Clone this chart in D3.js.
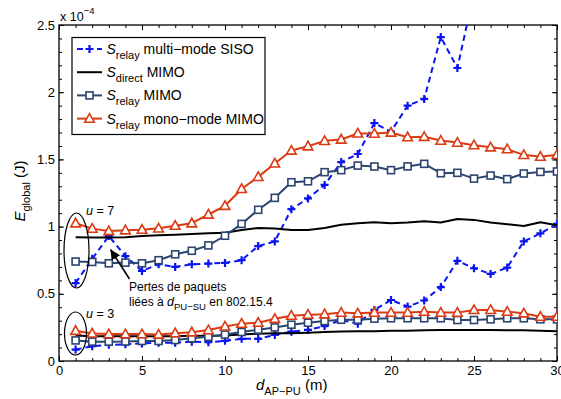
<!DOCTYPE html>
<html><head><meta charset="utf-8">
<script src="https://cdn.jsdelivr.net/npm/d3@7/dist/d3.min.js"></script>
<style>body{margin:0;background:#fff}svg{display:block;font-family:"Liberation Sans",Arial,sans-serif}</style>
</head><body><svg id="c" width="561" height="399"></svg>
<script>
const dist = d3.range(1, 31);
const xTicks = [0, 5, 10, 15, 20, 25, 30];
const yTicks = [0, 0.5, 1, 1.5, 2, 2.5];
const yTickLabels = ["0", "0.5", "1", "1.5", "2", "2.5"];
// u = 7
const siso7 = [0.58, 0.76, 0.93, 0.78, 0.67, 0.72, 0.70, 0.72, 0.725, 0.73, 0.75, 0.855, 0.89, 1.13, 1.21, 1.31, 1.48, 1.54, 1.77, 1.707, 1.90, 1.95, 2.41, 2.18, 2.74];
const direct7 = [0.92, 0.918, 0.918, 0.92, 0.93, 0.935, 0.94, 0.945, 0.95, 0.955, 0.975, 0.99, 0.985, 0.975, 0.975, 0.99, 1.013, 1.025, 1.033, 1.025, 1.03, 1.04, 1.03, 1.057, 1.05, 1.03, 1.018, 1.005, 1.033, 1.01];
const relay7 = [0.74, 0.737, 0.727, 0.732, 0.727, 0.75, 0.794, 0.82, 0.86, 0.932, 1.02, 1.125, 1.214, 1.33, 1.337, 1.405, 1.42, 1.454, 1.447, 1.42, 1.448, 1.467, 1.397, 1.40, 1.357, 1.38, 1.353, 1.395, 1.407, 1.41];
const mono7 = [1.025, 0.985, 0.967, 0.973, 0.977, 0.987, 1.007, 1.025, 1.09, 1.155, 1.28, 1.37, 1.47, 1.566, 1.598, 1.638, 1.648, 1.693, 1.692, 1.70, 1.665, 1.668, 1.64, 1.625, 1.606, 1.59, 1.576, 1.534, 1.52, 1.534];
// u = 3
const siso3 = [0.085, 0.11, 0.12, 0.124, 0.13, 0.136, 0.136, 0.144, 0.14, 0.15, 0.165, 0.165, 0.194, 0.218, 0.232, 0.26, 0.305, 0.278, 0.38, 0.454, 0.405, 0.45, 0.55, 0.745, 0.69, 0.648, 0.695, 0.89, 0.95, 1.02];
const direct3 = [0.19, 0.185, 0.185, 0.185, 0.185, 0.185, 0.185, 0.187, 0.188, 0.19, 0.197, 0.203, 0.206, 0.207, 0.21, 0.215, 0.22, 0.222, 0.222, 0.225, 0.225, 0.228, 0.23, 0.23, 0.23, 0.23, 0.228, 0.228, 0.226, 0.222];
const relay3 = [0.153, 0.144, 0.144, 0.145, 0.149, 0.149, 0.156, 0.169, 0.18, 0.197, 0.216, 0.233, 0.25, 0.27, 0.285, 0.297, 0.307, 0.307, 0.315, 0.318, 0.318, 0.318, 0.318, 0.305, 0.305, 0.31, 0.318, 0.318, 0.31, 0.31];
const mono3 = [0.225, 0.205, 0.2, 0.2, 0.2, 0.197, 0.207, 0.214, 0.23, 0.257, 0.278, 0.285, 0.314, 0.337, 0.345, 0.348, 0.36, 0.355, 0.36, 0.36, 0.36, 0.367, 0.36, 0.36, 0.38, 0.38, 0.367, 0.355, 0.33, 0.33];

const seriesNames = ["multi\u2212mode SISO", "MIMO", "MIMO", "mono\u2212mode MIMO"];
const seriesSubs = ["relay", "direct", "relay", "relay"];

const C = {siso: "#0a14f0", direct: "#000000", relay: "#2c4470", mono: "#dc3a12"};

const svg = d3.select("#c");
const L = 59, R = 557, T = 25, B = 361;
const x = d3.scaleLinear().domain([0, 30]).range([L, R]);
const y = d3.scaleLinear().domain([0, 2.5]).range([B, T]);

svg.append("defs").append("clipPath").attr("id", "clip")
  .append("rect").attr("x", L).attr("y", T).attr("width", R - L).attr("height", B - T);

// axes box and ticks
const g = svg.append("g");
function ax(axis, tx, ty, size) {
  const a = g.append("g").attr("transform", `translate(${tx},${ty})`).call(axis.tickSize(size).tickSizeOuter(0));
  a.select(".domain").remove();
  a.selectAll("line").attr("stroke", "#000").attr("stroke-width", 1);
  return a;
}
const minorX = d3.range(0, 31);
const minorY = d3.range(0, 26).map(d => d / 10);
ax(d3.axisBottom(x).tickValues(minorX).tickFormat(""), 0, B, -3);
ax(d3.axisTop(x).tickValues(minorX).tickFormat(""), 0, T, -3);
ax(d3.axisLeft(y).tickValues(minorY).tickFormat(""), L, 0, -3);
ax(d3.axisRight(y).tickValues(minorY).tickFormat(""), R, 0, -3);
const bx = ax(d3.axisBottom(x).tickValues(xTicks).tickFormat(d3.format("d")), 0, B, -5);
bx.selectAll("text").attr("y", 5).attr("dy", "0.71em").attr("font-size", 13).attr("fill", "#000");
ax(d3.axisTop(x).tickValues(xTicks).tickFormat(""), 0, T, -5);
const ly = ax(d3.axisLeft(y).tickValues(yTicks).tickFormat((d, i) => yTickLabels[i]), L, 0, -5);
ly.selectAll("text").attr("x", -4).attr("font-size", 13).attr("fill", "#000");
ax(d3.axisRight(y).tickValues(yTicks).tickFormat(""), R, 0, -5);
g.append("rect").attr("x", L).attr("y", T).attr("width", R - L).attr("height", B - T)
  .attr("fill", "none").attr("stroke", "#000").attr("stroke-width", 1.3);

// exponent
const ex = svg.append("text").attr("x", 60).attr("y", 21).attr("font-size", 12.5);
ex.append("tspan").text("x 10");
ex.append("tspan").attr("dy", -7).attr("font-size", 9.5).text("\u22124");

// axis labels
const xl = svg.append("text").attr("x", 256).attr("y", 390).attr("font-size", 15);
xl.append("tspan").attr("font-style", "italic").text("d");
xl.append("tspan").attr("dy", 5).attr("font-size", 11).text("AP\u2212PU");
xl.append("tspan").attr("dy", -5).text(" (m)");
const yl = svg.append("text").attr("transform", "translate(25,191) rotate(-90)")
  .attr("text-anchor", "middle").attr("font-size", 15);
yl.append("tspan").attr("font-style", "italic").text("E");
yl.append("tspan").attr("dy", 5).attr("font-size", 11).text("global");
yl.append("tspan").attr("dy", -5).text(" (J)");

// series
const plot = svg.append("g").attr("clip-path", "url(#clip)");
const line = d3.line().x(d => x(d[0])).y(d => y(d[1]));
function pts(arr) { return arr.map((v, i) => [dist[i], v]); }

function marker(sel, kind, color) {
  if (kind === "plus") {
    sel.append("path").attr("d", "M-4,0H4M0,-4V4").attr("stroke", color).attr("stroke-width", 2.2).attr("fill", "none");
  } else if (kind === "square") {
    sel.append("rect").attr("x", -3.5).attr("y", -3.5).attr("width", 7).attr("height", 7)
      .attr("fill", "#fff").attr("stroke", color).attr("stroke-width", 1.6);
  } else if (kind === "tri") {
    sel.append("path").attr("d", "M0,-5L4.8,3.6L-4.8,3.6Z")
      .attr("fill", "#fff").attr("stroke", color).attr("stroke-width", 1.6);
  }
}

function drawSeries(arr, color, kind, dash) {
  const p = pts(arr);
  plot.append("path").attr("d", line(p)).attr("fill", "none").attr("stroke", color)
    .attr("stroke-width", 2).attr("stroke-dasharray", dash || null).attr("stroke-linejoin", "round");
  if (kind) {
    plot.selectAll(null).data(p).enter().append("g")
      .attr("transform", d => `translate(${x(d[0])},${y(d[1])})`)
      .each(function () { marker(d3.select(this), kind, color); });
  }
}

drawSeries(siso7, C.siso, "plus", "6,4");
drawSeries(siso3, C.siso, "plus", "6,4");
drawSeries(direct7, C.direct, null);
drawSeries(direct3, C.direct, null);
drawSeries(relay7, C.relay, "square");
drawSeries(relay3, C.relay, "square");
drawSeries(mono7, C.mono, "tri");
drawSeries(mono3, C.mono, "tri");

// annotations
svg.append("ellipse").attr("cx", 76.5).attr("cy", 250.5).attr("rx", 12.5).attr("ry", 37.5)
  .attr("fill", "none").attr("stroke", "#000").attr("stroke-width", 1.2);
svg.append("ellipse").attr("cx", 75.5).attr("cy", 333.5).attr("rx", 11).attr("ry", 21.5)
  .attr("fill", "none").attr("stroke", "#000").attr("stroke-width", 1.2);
function uLabel(px, py, val) {
  const t = svg.append("text").attr("x", px).attr("y", py).attr("font-size", 12.5);
  t.append("tspan").attr("font-style", "italic").text("u");
  t.append("tspan").text(" = " + val);
}
uLabel(86, 215, "7");
uLabel(86, 318, "3");
svg.append("defs").append("marker").attr("id", "ah").attr("viewBox", "0 0 10 10")
  .attr("refX", 10).attr("refY", 5).attr("markerWidth", 10).attr("markerHeight", 10)
  .attr("markerUnits", "userSpaceOnUse").attr("orient", "auto")
  .append("path").attr("d", "M0,0L10,5L0,10Z").attr("fill", "#000");
svg.append("line").attr("x1", 129.5).attr("y1", 279).attr("x2", 110.5).attr("y2", 249.5)
  .attr("stroke", "#000").attr("stroke-width", 1.6).attr("marker-end", "url(#ah)");
svg.append("text").attr("x", 129).attr("y", 291).attr("font-size", 12).text("Pertes de paquets");
const t2 = svg.append("text").attr("x", 129).attr("y", 306).attr("font-size", 12);
t2.append("tspan").text("li\u00e9es \u00e0 ");
t2.append("tspan").attr("font-style", "italic").attr("font-size", 12.5).text("d");
t2.append("tspan").attr("dy", 4).attr("font-size", 9.5).text("PU\u2212SU");
t2.append("tspan").attr("dy", -4).text(" en 802.15.4");

// legend
const lg = svg.append("g");
lg.append("rect").attr("x", 72).attr("y", 37.5).attr("width", 193).attr("height", 97)
  .attr("fill", "#fff").attr("stroke", "#000").attr("stroke-width", 1.2);
const legendRows = [
  {c: C.siso, k: "plus", dash: "6,4"},
  {c: C.direct, k: null},
  {c: C.relay, k: "square"},
  {c: C.mono, k: "tri"}
];
legendRows.forEach((r, i) => {
  const yy = 49 + i * 23.2;
  lg.append("line").attr("x1", 77).attr("x2", 102).attr("y1", yy).attr("y2", yy)
    .attr("stroke", r.c).attr("stroke-width", 2).attr("stroke-dasharray", r.dash || null);
  if (r.k) marker(lg.append("g").attr("transform", `translate(89.5,${yy})`), r.k, r.c);
  const t = lg.append("text").attr("x", 106.5).attr("y", yy + 5).attr("font-size", 14);
  t.append("tspan").attr("font-style", "italic").text("S");
  t.append("tspan").attr("dy", 5).attr("font-size", 11).text(seriesSubs[i]);
  t.append("tspan").attr("dy", -5).text(" " + seriesNames[i]);
});
</script></body></html>
